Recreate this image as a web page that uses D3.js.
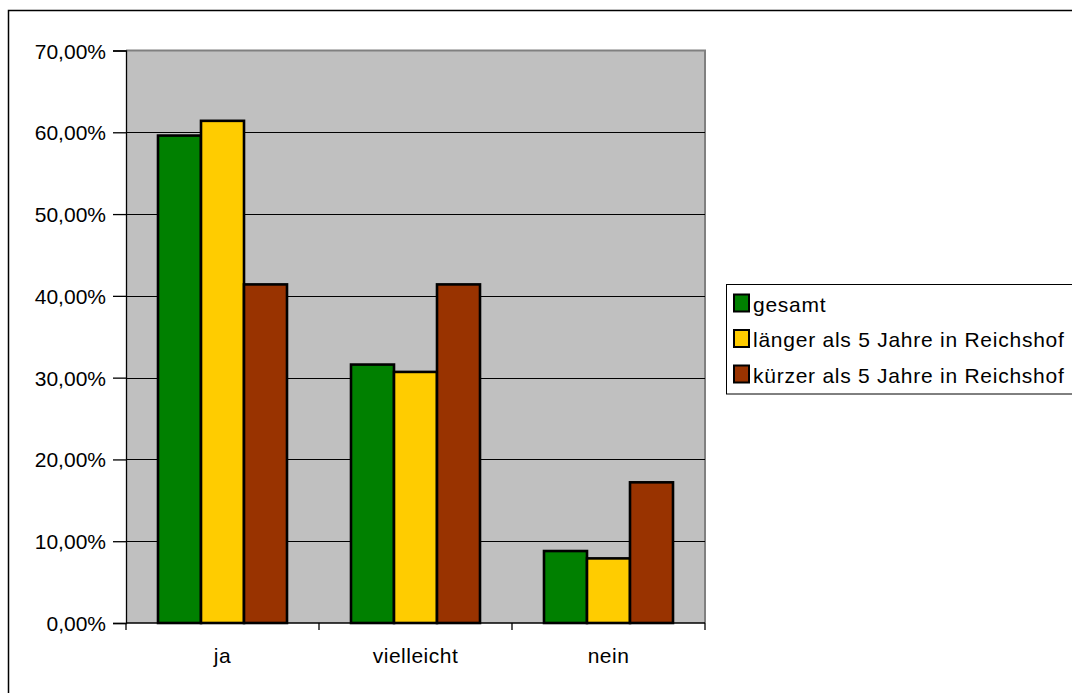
<!DOCTYPE html>
<html><head><meta charset="utf-8">
<script src="https://cdn.jsdelivr.net/npm/d3@7"></script>
<style>
body{margin:0;background:#fff;}
svg text{font-family:"Liberation Sans",Arial,sans-serif;fill:#000;}
</style></head>
<body><svg id="c" width="1072" height="693"></svg>
<script>
const categories = ["ja", "vielleicht", "nein"];
const seriesNames = ["gesamt", "länger als 5 Jahre in Reichshof", "kürzer als 5 Jahre in Reichshof"];
const gesamt = [59.6, 31.6, 8.8];
const laenger = [61.4, 30.7, 7.9];
const kuerzer = [41.4, 41.4, 17.2];
const yTicks = [0, 10, 20, 30, 40, 50, 60, 70];
const colors = ["#008000", "#FFCC00", "#993300"];

const series = [gesamt, laenger, kuerzer];
const svg = d3.select("#c");

// outer border
svg.append("rect").attr("x", 8.5).attr("y", 10.5).attr("width", 1080).attr("height", 700)
  .attr("fill", "none").attr("stroke", "#000").attr("stroke-width", 1.5);

const L = 126, R = 705, T = 50.5, B = 623;
const x = d3.scaleBand().domain(categories).range([L, R]).paddingInner(64/193).paddingOuter(32/193);
const x0 = d3.scaleBand().domain(categories).range([L, R]);
const xs = d3.scaleBand().domain(d3.range(3)).range([0, x.bandwidth()]);
const y = d3.scaleLinear().domain([0, 70]).range([B, T]);

svg.append("rect").attr("x", L).attr("y", T).attr("width", R - L).attr("height", B - T).attr("fill", "#c0c0c0");
svg.append("path").attr("d", `M${L},${T}H${R}V${B}`).attr("fill", "none").attr("stroke", "#808080").attr("stroke-width", 2);

svg.append("g").selectAll("line").data(yTicks.filter(d => d > 0 && d < 70)).join("line")
  .attr("x1", L).attr("x2", R).attr("y1", d => Math.round(y(d)) + 0.5).attr("y2", d => Math.round(y(d)) + 0.5)
  .attr("stroke", "#000").attr("stroke-width", 1);

const g = svg.append("g");
categories.forEach((c, i) => {
  series.forEach((s, j) => {
    g.append("rect")
      .attr("x", x(c) + xs(j))
      .attr("y", y(s[i]))
      .attr("width", xs.bandwidth())
      .attr("height", B - y(s[i]))
      .attr("fill", colors[j]).attr("stroke", "#000").attr("stroke-width", 2.6);
  });
});

const yAxis = d3.axisLeft(y).tickValues(yTicks).tickSize(13).tickPadding(7)
  .tickFormat(d => d3.format(".2f")(d).replace(".", ",") + "%");
const ya = svg.append("g").attr("transform", `translate(${L},0)`).call(yAxis);
ya.selectAll("text").attr("font-size", 21).attr("dy", "0.36em");
ya.selectAll("line,path").attr("stroke", "#000").attr("stroke-width", 1.3);

const xAxis = d3.axisBottom(x0).tickSize(0);
const xa = svg.append("g").attr("transform", `translate(0,${B})`).call(xAxis);
xa.selectAll("text").attr("font-size", 21).attr("letter-spacing", "0.5px").attr("y", 40).attr("dy", 0);
xa.selectAll("path").attr("stroke", "#000").attr("stroke-width", 1.5).attr("d", `M${L},0H${R}`);
xa.append("g").selectAll("line").data([L, L + (R - L) / 3, L + 2 * (R - L) / 3, R]).join("line")
  .attr("x1", d => d).attr("x2", d => d).attr("y1", 0).attr("y2", 7).attr("stroke", "#000").attr("stroke-width", 1.3);

const lg = svg.append("g");
lg.append("rect").attr("x", 726.5).attr("y", 284.5).attr("width", 360).attr("height", 109.5)
  .attr("fill", "#fff").attr("stroke", "#000").attr("stroke-width", 1);
seriesNames.forEach((n, j) => {
  const cy = 303 + j * 35.5;
  lg.append("rect").attr("x", 734).attr("y", cy - 8.5).attr("width", 15).attr("height", 17)
    .attr("fill", colors[j]).attr("stroke", "#000").attr("stroke-width", 2);
  lg.append("text").attr("x", 753).attr("y", cy + 8.5).attr("font-size", 21)
    .attr("letter-spacing", "0.75px").text(n);
});
</script></body></html>
